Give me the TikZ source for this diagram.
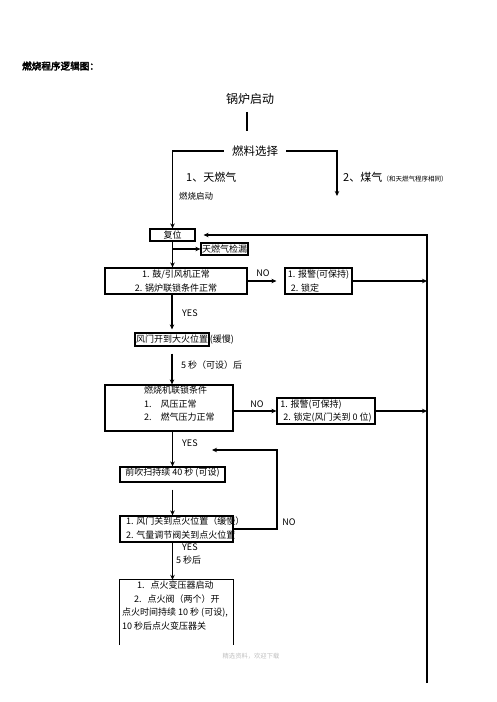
\documentclass[tikz,border=0pt]{standalone}
\usepackage{fontspec}
\setmainfont{Noto Sans CJK SC}
\newfontfamily\titlefont{Noto Sans CJK SC}[FakeBold=3]
\usetikzlibrary{arrows.meta,positioning}
\newcommand\boxfont{\fontsize{9}{13.5}\selectfont}
\newcommand\notefont{\fontsize{6.5}{8}\selectfont}

\begin{document}
\begin{tikzpicture}[x=1pt,y=-1pt,
  box/.style={draw,line width=1.2pt,inner sep=1pt,font=\boxfont},
  flow/.style={-{Stealth[length=5pt,width=4.5pt]},line width=1.2pt},
  plain/.style={line width=1.2pt},
  note/.style={inner sep=1pt,font=\boxfont}]
  \useasboundingbox (0,0) rectangle (496,702);
  % Title
  \node[anchor=west,inner sep=0pt,font=\titlefont\fontsize{9.6}{11}\selectfont] (title) at (22,66)
    {燃烧程序逻辑图：};
  % Start and fuel choice
  \node[inner sep=1pt,font=\fontsize{12}{14}\selectfont] (start) at (250,99) {锅炉启动};
  \node[inner sep=1pt,font=\fontsize{11.5}{14}\selectfont] (fuel) at (255,151) {燃料选择};
  \coordinate (trunk) at (247,0);
  \coordinate (gasend) at (337,196);
  \node[anchor=west,inner sep=0pt,font=\fontsize{11}{13}\selectfont] (natgas) at (186,177) {1、天燃气};
  \node[anchor=west,inner sep=0pt,font=\fontsize{8.5}{10}\selectfont] (ngstart) at (179,196) {燃烧启动};
  \node[anchor=west,inner sep=0pt,font=\fontsize{11}{13}\selectfont] (coalgas) at (343,177) {2、煤气};
  \node[anchor=base west,inner sep=0pt,font=\notefont] (samenote) at (coalgas.base east)
    {（和天燃气程序相同）};
  % Reset and leak test
  \node[box,minimum width=45pt,minimum height=12pt] (reset) at (172.5,235) {复位};
  \node[box,minimum width=45pt,minimum height=12pt] (leak) at (224.5,249) {天燃气检漏};
  % Fan check
  \node[box,minimum width=142pt,minimum height=26pt,align=center] (check1) at (176,281)
    {1. 鼓/引风机正常\\2. 锅炉联锁条件正常};
  \node[note] (no1) at (263,273) {NO};
  \node[box,minimum width=67pt,minimum height=26pt,align=left] (alarm1) at (318.5,281)
    {1. 报警(可保持)\\\hspace*{3pt}2. 锁定};
  \node[note,anchor=west] (yes1) at (181,313) {YES};
  % Damper to high fire
  \node[box,minimum width=74pt,minimum height=13pt] (fanopen) at (172,339.5) {风门开到大火位置};
  \node[note,anchor=west,inner sep=0pt] (slow1) at (fanopen.east) {(缓慢)};
  \node[note,anchor=west] (delay1) at (180,365) {5 秒（可设）后};
  % Burner interlock
  \node[box,minimum width=128pt,minimum height=46pt] (interlock) at (169,408) {};
  \node[note,anchor=north west,align=left] (interlocktxt) at (143,385)
    {燃烧机联锁条件\\1.\hspace{9pt}风压正常\\2.\hspace{9pt}燃气压力正常};
  \node[note] (no2) at (257,404) {NO};
  \node[box,minimum width=98pt,minimum height=26pt,align=left] (alarm2) at (326,411)
    {1. 报警(可保持)\\\hspace*{3pt}2. 锁定(风门关到 0 位)};
  \node[note,anchor=west] (yes2) at (181,443) {YES};
  % Pre-purge
  \node[box,minimum width=105pt,minimum height=15pt,text depth=5pt] (purge) at (172.5,474.5)
    {前吹扫持续 40 秒 (可设)};
  % Damper to ignition position
  \node[box,minimum width=113pt,minimum height=26pt] (ignpos) at (176.5,529) {};
  \node[note,anchor=west,align=left] (ignpostxt) at (125,528)
    {1. 风门关到点火位置（缓慢）\\2. 气量调节阀关到点火位置};
  \node[note] (no3) at (289,522) {NO};
  \coordinate (loopc) at (277,450);
  \coordinate (loopend) at (212,450);
  \node[note,anchor=west] (yes3) at (181,547) {YES};
  \node[note,anchor=west] (delay2) at (175,560) {5 秒后};
  % Ignition
  \node[minimum width=113pt,minimum height=65pt,inner sep=0pt] (ignite) at (176.5,612.5) {};
  \node[note,anchor=north west,align=left] (ignitetxt) at (121,580)
    {\hspace*{15pt}1.\hspace{6pt}点火变压器启动\\\hspace*{12pt}2.\hspace{6pt}点火阀（两个）开\\
     点火时间持续 10 秒 (可设),\\10 秒后点火变压器关};
  \node[inner sep=0pt,font=\fontsize{6.3}{8}\selectfont,text=black!25] (mark) at (251,656)
    {精选资料，欢迎下载};
  % Return line
  \coordinate (rtop) at (427,235);
  \coordinate (rbot) at (427,683);
  % Arrows
  \draw[plain,shorten <=6pt,shorten >=13pt] (start.south -| trunk) -- (fuel.north -| trunk);
  \draw[flow,shorten <=7pt] (fuel.west) -| (reset.north);
  \draw[flow,shorten <=7pt] (fuel.east) -| (gasend);
  \draw[flow,shorten >=8pt] (rbot) -- (rtop) -- (reset.east);
  \draw[flow] (reset.south) -- (reset.south |- check1.north);
  \draw[flow] (reset.south |- leak.west) -- (leak.west);
  \draw[flow,shorten >=8pt] (check1.east) -- (alarm1.west);
  \draw[flow] (alarm1.east) -- (alarm1.east -| rtop);
  \draw[flow,shorten >=3pt] (fanopen.north |- check1.south) -- (fanopen.north);
  \draw[flow,shorten <=7pt] (fanopen.south) -- (fanopen.south |- interlock.north);
  \draw[flow] (interlock.east |- alarm2.west) -- (alarm2.west);
  \draw[flow] (alarm2.east) -- (alarm2.east -| rtop);
  \draw[flow] (purge.north |- interlock.south) -- (purge.north);
  \draw[flow,shorten <=7pt] (purge.south) -- (purge.south |- ignpos.north);
  \draw[flow] (ignpos.east) -| (loopc) -- (loopend);
  \draw[flow] (purge.south |- ignpos.south) -- (purge.south |- ignite.north);
  \draw[plain] (ignite.south west) -- (ignite.north west) -- (ignite.north east) -- (ignite.south east);
\end{tikzpicture}
\end{document}
